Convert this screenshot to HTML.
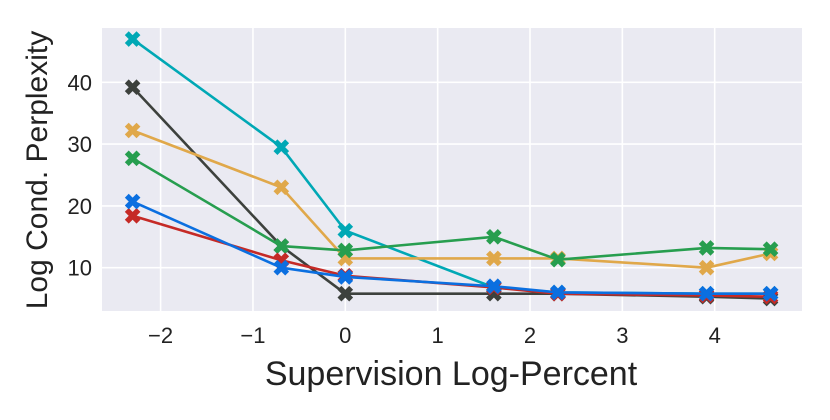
<!DOCTYPE html>
<html><head><meta charset="utf-8"><style>
body{margin:0;background:#fff;width:830px;height:415px;overflow:hidden}
text{font-family:"Liberation Sans",Arial,sans-serif;fill:#222}
</style></head><body>
<svg id="c" width="830" height="415" xmlns="http://www.w3.org/2000/svg"></svg>
<script>
const xValues=[-2.303,-0.693,0,1.609,2.303,3.912,4.605];
const seriesNames=["cyan","black","orange","green","blue","red"];
const seriesColors=["#00a8b5","#3d413d","#e0a84a","#279e4f","#0b6fe0","#c52a26"];
const cyanVals=[47,29.5,16,6.8,6,5.8,5.8];
const blackVals=[39.2,13.5,5.8,5.8,5.8,5.3,5.0];
const orangeVals=[32.2,23,11.5,11.5,11.5,10,12.3];
const greenVals=[27.7,13.5,12.8,15,11.3,13.2,13];
const blueVals=[20.7,10,8.5,7,6,5.8,5.8];
const redVals=[18.4,11.2,8.7,6.8,5.8,5.5,5.3];
const xTicks=[-2,-1,0,1,2,3,4];
const yTicks=[10,20,30,40];
const allSeries=[cyanVals,blackVals,orangeVals,greenVals,blueVals,redVals];
const drawOrder=[0,1,2,3,5,4];
const NS="http://www.w3.org/2000/svg";
const svg=document.getElementById('c');
const L=102,R=802,T=28,B=311;
const sx=v=>345.3+v*92.35;
const sy=v=>329.5-v*6.18;
function el(t,a,p){const e=document.createElementNS(NS,t);for(const k in a)e.setAttribute(k,a[k]);(p||svg).appendChild(e);return e;}
const bg=el('rect',{x:L,y:T,width:R-L,height:B-T,fill:'#eaeaf2'});


xTicks.forEach(t=>{
  const g=el('line',{x1:sx(t),x2:sx(t),y1:T,y2:B,stroke:'#fff','stroke-width':1.6});
  
  
  const lb=el('text',{x:sx(t),y:343,'text-anchor':'middle','font-size':22});
  lb.textContent=t<0?'\u2212'+(-t):String(t);
  
  
});
yTicks.forEach(t=>{
  const g=el('line',{x1:L,x2:R,y1:sy(t),y2:sy(t),stroke:'#fff','stroke-width':1.6});
  
  
  const lb=el('text',{x:92,y:sy(t)+8,'text-anchor':'end','font-size':22});
  lb.textContent=String(t);
  
  
});
function marker(cx,cy,col,parent){
  const s=5.5,w=3.2;
  const d=`M${cx-s-w/2},${cy-s+w/2} L${cx-s+w/2},${cy-s-w/2} L${cx},${cy-w} L${cx+s-w/2},${cy-s-w/2} L${cx+s+w/2},${cy-s+w/2} L${cx+w},${cy} L${cx+s+w/2},${cy+s-w/2} L${cx+s-w/2},${cy+s+w/2} L${cx},${cy+w} L${cx-s+w/2},${cy+s+w/2} L${cx-s-w/2},${cy+s-w/2} L${cx-w},${cy} Z`;
  const m=el('path',{d:d,fill:col,stroke:col,'stroke-width':1},parent);
  
  
}
drawOrder.forEach(i=>{
  const vals=allSeries[i],col=seriesColors[i];
  const g=el('g',{});
  
  
  const pl=el('polyline',{points:vals.map((v,j)=>sx(xValues[j])+','+sy(v)).join(' '),fill:'none',stroke:col,'stroke-width':2.6,'stroke-linejoin':'round'},g);
  
  
  vals.forEach((v,j)=>marker(sx(xValues[j]),sy(v),col,g));
});
const xl=el('text',{x:451,y:385,'text-anchor':'middle','font-size':34});
xl.textContent='Supervision Log-Percent';


const yl=el('text',{x:0,y:0,'text-anchor':'middle','font-size':30,transform:'translate(47,170) rotate(-90)'});
yl.textContent='Log Cond. Perplexity';


</script>
</body></html>
